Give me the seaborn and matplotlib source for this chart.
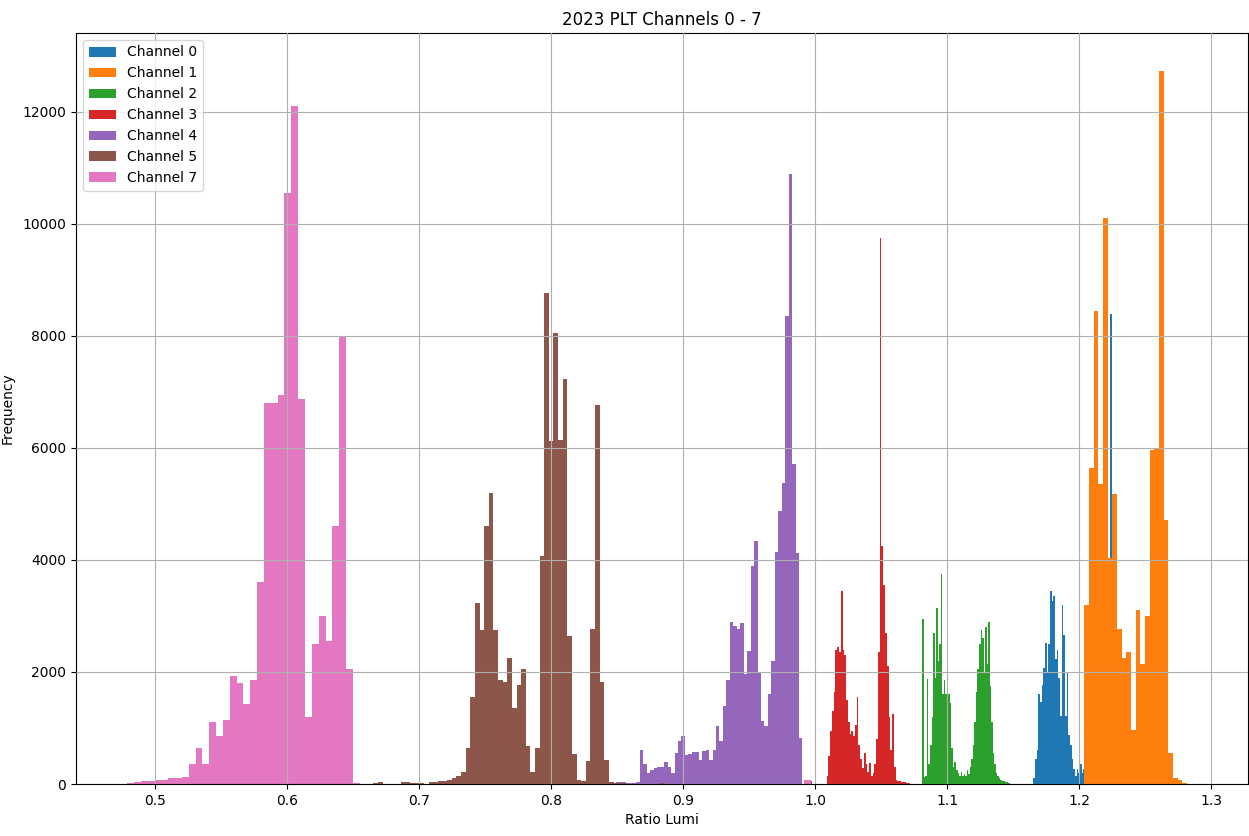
import numpy as np
import pandas as pd
import matplotlib
matplotlib.use("Agg")
import matplotlib.pyplot as plt
import seaborn as sns

# ---------------- data (bin counts) ----------------
channel_labels = ["Channel 0", "Channel 1", "Channel 2", "Channel 3",
                  "Channel 4", "Channel 5", "Channel 7"]

# Channel 0 (blue)
ch0_first_edge = 1.1654
ch0_bin_width = 0.00126
ch0_counts = [100, 450, 600, 1600, 1470, 1770, 2070, 2520, 1980, 2500,
              3450, 3260, 3350, 2240, 2400, 1900, 1210, 3200, 2660, 1210,
              1980, 870, 700, 440, 270, 150, 270, 190, 360, 190,
              270, 100, 0, 0, 0, 0, 0, 0, 0, 0,
              0, 0, 0, 0, 0, 0, 8400, 0, 0, 0,
              0, 0, 0, 0, 0, 0, 0, 0, 1380]

# Channel 1 (orange)
ch1_first_edge = 1.2040
ch1_bin_width = 0.00353
ch1_counts = [3200, 5650, 8450, 5350, 10100, 4030, 5180, 2770, 2250, 2350,
              960, 3100, 2150, 3000, 5960, 6000, 12740, 4720, 550, 100,
              80, 20]

# Channel 2 (green)
ch2_first_edge = 1.0813
ch2_bin_width = 0.00116
ch2_counts = [2950, 120, 150, 1870, 350, 700, 1200, 2700, 1900, 3150,
              2200, 2500, 3750, 1600, 1850, 1600, 1850, 1600, 1450, 650,
              300, 400, 250, 200, 150, 220, 150, 180, 150, 250,
              180, 300, 450, 700, 1100, 1650, 2050, 2500, 2750, 2600,
              2000, 2800, 2150, 2900, 1750, 1100, 550, 350, 200, 150,
              100, 80, 60, 50, 40, 30, 20]

# Channel 3 (red)
ch3_first_edge = 1.0088
ch3_bin_width = 0.00134
ch3_counts = [150, 500, 950, 1300, 1650, 2400, 2450, 2350, 3450, 2400,
              2300, 1500, 1100, 900, 950, 850, 1050, 1550, 700, 450,
              280, 560, 350, 220, 380, 150, 200, 350, 800, 2350,
              9750, 4250, 3550, 2700, 2100, 1200, 600, 1250, 300, 80,
              60, 50, 40, 30, 30, 20, 20]

# Channel 4 (purple)
ch4_first_edge = 0.8438
ch4_bin_width = 0.00262
ch4_counts = [10, 20, 30, 40, 30, 20, 10, 20, 40,
              600, 350, 200, 250, 280, 300, 300, 400, 300, 200,
              550, 770, 860, 520, 530, 570, 580, 430, 590, 600,
              430, 600, 1040, 760, 1390, 1850, 2890, 2820, 2760, 2880,
              1970, 2370, 3900, 4340, 1990, 1130, 1040, 1600, 2200, 4150,
              4870, 5380, 8350, 10890, 5710, 4120, 820]

# Channel 5 (brown)
ch5_first_edge = 0.6654
ch5_bin_width = 0.0035
ch5_counts = [20, 30, 0, 0, 0, 0, 30, 30, 10, 20,
              20, 0, 30, 40, 60, 50, 70, 100, 140, 220,
              650, 1560, 3230, 2750, 4600, 5200, 2750, 1850, 1820, 2250,
              1360, 1770, 2050, 670, 220, 640, 4080, 8760, 6120, 8060,
              6150, 7230, 2650, 530, 80, 60, 410, 2770, 6760, 1820,
              420, 30, 20, 10, 10, 0, 0, 0, 0, 0,
              0, 0, 20]
ch5_outlier_bin = 94
ch5_outlier_counts = [50]

# Channel 7 (pink)
ch7_first_edge = 0.4790
ch7_bin_width = 0.00518
ch7_counts = [20, 30, 50, 60, 70, 80, 100, 110, 130, 350,
              650, 350, 1100, 850, 1150, 1930, 1800, 1420, 1850, 3600,
              6800, 6800, 6950, 10550, 12100, 6880, 1200, 2500, 3000, 2550,
              4600, 8000, 2050, 20]
ch7_outlier_bin = 99
ch7_outlier_counts = [80]

x_ticks = [0.5, 0.6, 0.7, 0.8, 0.9, 1.0, 1.1, 1.2, 1.3]
y_ticks = [0, 2000, 4000, 6000, 8000, 10000, 12000]

colors = ["#1f77b4", "#ff7f0e", "#2ca02c", "#d62728",
          "#9467bd", "#8c564b", "#e377c2"]

# ---------------- plotting ----------------
plt.rcParams["font.family"] = ["DejaVu Sans"]
W, H = 1249, 836
fig = plt.figure(figsize=(W / 100, H / 100), dpi=100)
ax = fig.add_axes([76 / W, (H - 784) / H, (1248 - 76) / W, (784 - 33) / H])


def draw_segment(first_edge, width, counts, color, label=None, start_bin=0):
    counts = np.asarray(counts, dtype=float)
    edges = first_edge + width * (start_bin + np.arange(len(counts) + 1))
    centers = (edges[:-1] + edges[1:]) / 2
    df = pd.DataFrame({"ratio": centers, "count": counts})
    kw = {} if label is None else {"label": label}
    sns.histplot(data=df, x="ratio", weights="count", bins=edges.tolist(),
                 color=color, alpha=1.0, linewidth=0, element="bars",
                 ax=ax, **kw)


draw_segment(ch0_first_edge, ch0_bin_width, ch0_counts, colors[0], channel_labels[0])
draw_segment(ch1_first_edge, ch1_bin_width, ch1_counts, colors[1], channel_labels[1])
draw_segment(ch2_first_edge, ch2_bin_width, ch2_counts, colors[2], channel_labels[2])
draw_segment(ch3_first_edge, ch3_bin_width, ch3_counts, colors[3], channel_labels[3])
draw_segment(ch4_first_edge, ch4_bin_width, ch4_counts, colors[4], channel_labels[4])
draw_segment(ch5_first_edge, ch5_bin_width, ch5_counts, colors[5], channel_labels[5])
draw_segment(ch5_first_edge, ch5_bin_width, ch5_outlier_counts, colors[5],
             start_bin=ch5_outlier_bin)
draw_segment(ch7_first_edge, ch7_bin_width, ch7_counts, colors[6], channel_labels[6])
draw_segment(ch7_first_edge, ch7_bin_width, ch7_outlier_counts, colors[6],
             start_bin=ch7_outlier_bin)

ax.set_xlim(0.4402, 1.328)
ax.set_ylim(0, 13410)
ax.set_xticks(x_ticks)
ax.set_xticklabels([f"{t:.1f}" for t in x_ticks])
ax.set_yticks(y_ticks)
ax.set_yticklabels([str(t) for t in y_ticks])
ax.tick_params(labelsize=10)

ax.grid(True, color="#b0b0b0", linewidth=0.8)
ax.set_axisbelow(False)

ax.set_title("2023 PLT Channels 0 - 7", fontsize=12)
ax.set_xlabel("Ratio Lumi", fontsize=10)
ax.set_ylabel("Frequency", fontsize=10)
ax.yaxis.set_label_coords((15 - 76) / (1248 - 76), 0.5)

ax.legend(loc="upper left", fontsize=10)

fig.savefig("out.png", dpi=100)
